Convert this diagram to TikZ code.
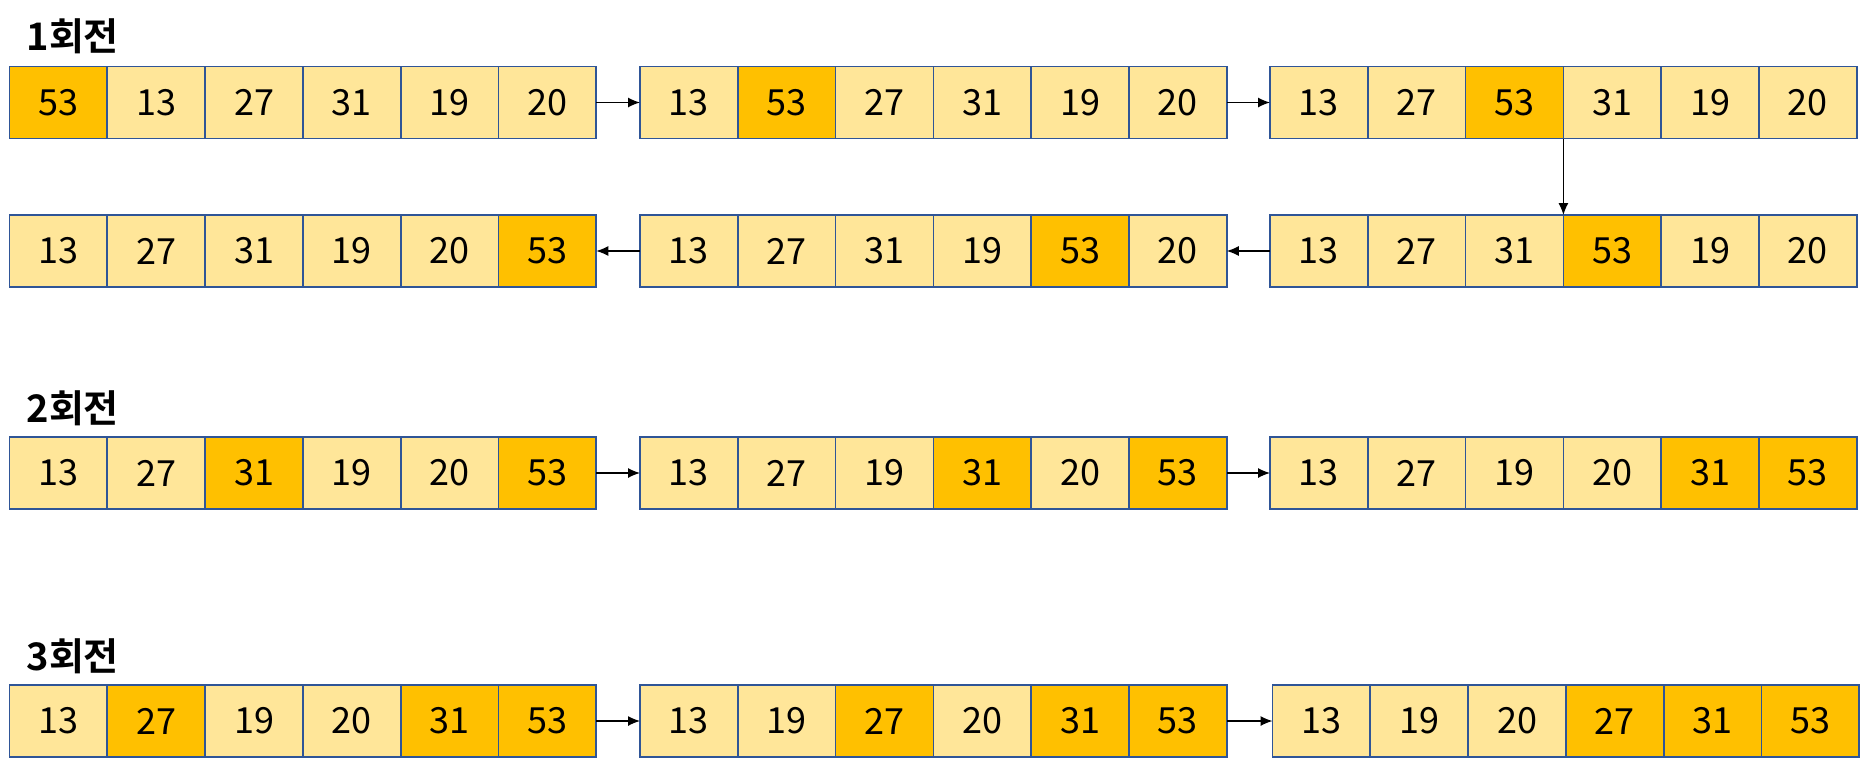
\documentclass[tikz,border=0pt]{standalone}
\usepackage{fontspec}
\setmainfont{Noto Sans CJK KR}[BoldFont={Noto Sans CJK KR Bold}]
\usepackage{tikz}
\usetikzlibrary{arrows.meta}
\usetikzlibrary{positioning}
\definecolor{cellFill}{HTML}{FFE699}
\definecolor{pickFill}{HTML}{FFC000}
\definecolor{cellLine}{HTML}{2F5597}
\tikzset{
    cell/.style={draw=cellLine, fill=cellFill, line width=0.85pt,
      minimum width=48.9pt, minimum height=36pt, inner sep=0pt, outer sep=0pt,
      font=\fontsize{18}{18}\selectfont},
    pick/.style={cell, fill=pickFill},
    roundTitle/.style={anchor=base west, inner sep=0pt,
      font=\fontsize{19}{19}\selectfont\bfseries},
  }
% one row of six cells: name, left x, centre y, value/style list
\newcommand{\sortArray}[4]{%
  \foreach \v/\s [count=\i, remember=\i as \last (initially 0)] in {#4} {
    \ifnum\i=1
      \node[style=\s, anchor=west] (#1-\i) at (#2,#3) {\v};
    \else
      \node[style=\s, right=0pt of #1-\last] (#1-\i) {\v};
    \fi
  }%
}

\begin{document}
\begin{tikzpicture}[x=0.5pt,y=-0.5pt,->,>={Latex[length=6pt,width=5pt]},line width=0.6pt]
  \useasboundingbox (0,0) rectangle (1861,767);

  % 1st pass
  \node[roundTitle] (t1) at (26,50) {1회전};
  \sortArray{a11}{9.5}{102.5}{53/pick,13/cell,27/cell,31/cell,19/cell,20/cell}
  \sortArray{a12}{640}{102.5}{13/cell,53/pick,27/cell,31/cell,19/cell,20/cell}
  \sortArray{a13}{1270}{102.5}{13/cell,27/cell,53/pick,31/cell,19/cell,20/cell}
  \sortArray{a21}{9.5}{251}{13/cell,27/cell,31/cell,19/cell,20/cell,53/pick}
  \sortArray{a22}{640}{251}{13/cell,27/cell,31/cell,19/cell,53/pick,20/cell}
  \sortArray{a23}{1270}{251}{13/cell,27/cell,31/cell,53/pick,19/cell,20/cell}

  \path (a11-6) edge (a12-1)
  (a12-6) edge (a13-1)
  (a13-3.south east) edge (a23-4.north west)
  (a23-1) edge (a22-6)
  (a22-1) edge (a21-6);

  % 2nd pass
  \node[roundTitle] (t2) at (26,422.7) {2회전};
  \sortArray{b1}{9.5}{473}{13/cell,27/cell,31/pick,19/cell,20/cell,53/pick}
  \sortArray{b2}{640}{473}{13/cell,27/cell,19/cell,31/pick,20/cell,53/pick}
  \sortArray{b3}{1270}{473}{13/cell,27/cell,19/cell,20/cell,31/pick,53/pick}

  \path (b1-6) edge (b2-1)
  (b2-6) edge (b3-1);

  % 3rd pass
  \node[roundTitle] (t3) at (26,670.7) {3회전};
  \sortArray{c1}{9.5}{721}{13/cell,27/pick,19/cell,20/cell,31/pick,53/pick}
  \sortArray{c2}{640}{721}{13/cell,19/cell,27/pick,20/cell,31/pick,53/pick}
  \sortArray{c3}{1272.5}{721}{13/cell,19/cell,20/cell,27/pick,31/pick,53/pick}

  \path (c1-6) edge (c2-1)
  (c2-6) edge (c3-1);
\end{tikzpicture}
\end{document}
